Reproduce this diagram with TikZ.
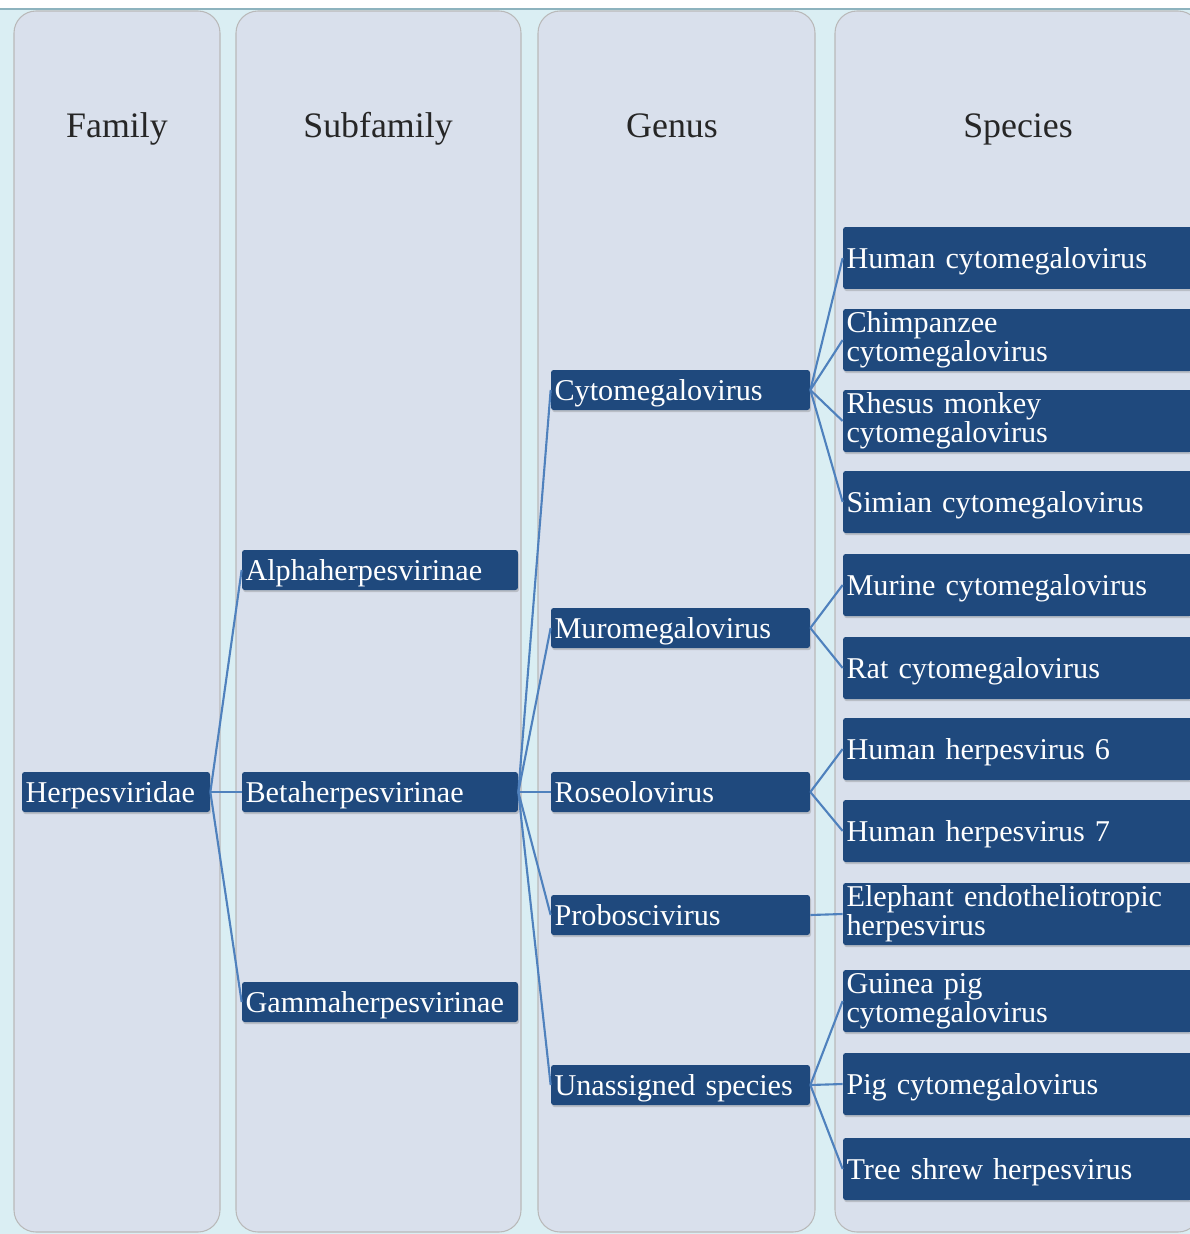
\documentclass[tikz,border=0pt]{standalone}
\usepackage{fontspec}
\setmainfont{Liberation Serif}
\usepackage{tikz}
\usetikzlibrary{shadows}
\definecolor{navy}{HTML}{1F497D}
\definecolor{linkblue}{HTML}{4F81BD}
\definecolor{lanefill}{HTML}{D9E0EC}
\definecolor{bgcyan}{HTML}{DAEEF3}
\definecolor{topline}{HTML}{8DB3BE}

\begin{document}
\begin{tikzpicture}[x=0.02cm, y=-0.02cm,
  lane/.style={draw=gray!55, fill=lanefill, rounded corners=0.44cm, line width=0.6pt},
  head/.style={anchor=base, font=\fontsize{20.4}{22}\selectfont, text=black!85},
  taxon/.style={fill=navy, text=white, rounded corners=1.5pt, inner xsep=2pt, inner ysep=0pt,
    align=left, font=\fontsize{17.2}{15.3}\selectfont,
    drop shadow={opacity=0.35, shadow xshift=0.6pt, shadow yshift=-1.2pt}},
  rank/.style={taxon, minimum height=0.8cm, text depth=0pt},
  sptwo/.style={taxon, minimum height=1.24cm, text width=6.84cm},
  sp/.style={sptwo, text depth=0pt},
  link/.style={draw=linkblue, line width=1.2pt},
]
\useasboundingbox (0,0) rectangle (1190,1234);
\fill[bgcyan] (0,9) rectangle (1190,1234);
\draw[topline, line width=1pt] (0,9) -- (1190,9);

% the four rank lanes
\draw[lane] (14,11) rectangle (220,1232);
\draw[lane] (236,11) rectangle (521,1232);
\draw[lane] (538,11) rectangle (815,1232);
\draw[lane] (835,11) rectangle (1200,1232);

\node[head] (hfam) at (117,137) {Family};
\node[head] (hsub) at (378,137) {Subfamily};
\node[head] (hgen) at (672,137) {Genus};
\node[head] (hspe) at (1018,137) {Species};

% family and subfamilies
\node[rank, text width=3.62cm] (herp) at (116,792) {Herpesviridae};
\node[rank, text width=5.38cm] (alpha) at (380,570) {Alphaherpesvirinae};
\node[rank, text width=5.38cm] (beta) at (380,792) {Betaherpesvirinae};
\node[rank, text width=5.38cm] (gamma) at (380,1002) {Gammaherpesvirinae};

% genera
\node[rank, text width=5.04cm] (cyto) at (680.5,390) {Cytomegalovirus};
\node[rank, text width=5.04cm] (muro) at (680.5,628) {Muromegalovirus};
\node[rank, text width=5.04cm] (roseo) at (680.5,792) {Roseolovirus};
\node[rank, text width=5.04cm] (probo) at (680.5,915) {Proboscivirus};
\node[rank, text width=5.04cm] (unas) at (680.5,1085) {Unassigned species};

% species
\node[sp] (hcmv) at (1017.5,258) {Human cytomegalovirus};
\node[sptwo] (ccmv) at (1017.5,340) {Chimpanzee\\cytomegalovirus};
\node[sptwo] (rcmv) at (1017.5,421) {Rhesus monkey\\cytomegalovirus};
\node[sp] (scmv) at (1017.5,502) {Simian cytomegalovirus};
\node[sp] (mcmv) at (1017.5,585) {Murine cytomegalovirus};
\node[sp] (ratcmv) at (1017.5,668) {Rat cytomegalovirus};
\node[sp] (hhv6) at (1017.5,749) {Human herpesvirus 6};
\node[sp] (hhv7) at (1017.5,831) {Human herpesvirus 7};
\node[sptwo] (eehv) at (1017.5,914) {Elephant endotheliotropic\\herpesvirus};
\node[sptwo] (gpcmv) at (1017.5,1001) {Guinea pig\\cytomegalovirus};
\node[sp] (pigcmv) at (1017.5,1084) {Pig cytomegalovirus};
\node[sp] (tshv) at (1017.5,1169) {Tree shrew herpesvirus};

% links
\foreach \c in {alpha,beta,gamma} \draw[link] (herp.east) -- (\c.west);
\foreach \c in {cyto,muro,roseo,probo,unas} \draw[link] (beta.east) -- (\c.west);
\foreach \c in {hcmv,ccmv,rcmv,scmv} \draw[link] (cyto.east) -- (\c.west);
\foreach \c in {mcmv,ratcmv} \draw[link] (muro.east) -- (\c.west);
\foreach \c in {hhv6,hhv7} \draw[link] (roseo.east) -- (\c.west);
\draw[link] (probo.east) -- (eehv.west);
\foreach \c in {gpcmv,pigcmv,tshv} \draw[link] (unas.east) -- (\c.west);
\end{tikzpicture}
\end{document}
